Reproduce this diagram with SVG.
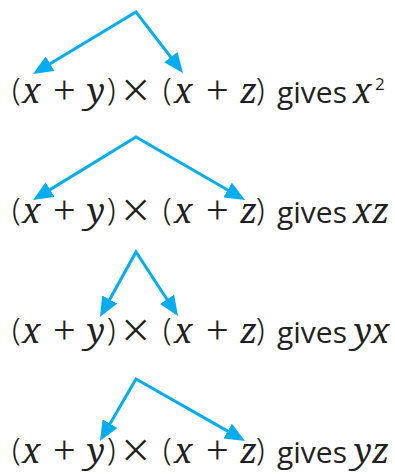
<svg xmlns="http://www.w3.org/2000/svg" width="395" height="474" viewBox="0 0 395 474">
<style>
  text { fill: #231f20; }
  .p { font-family: "Noto Sans", "Liberation Sans", sans-serif; font-size: 31px; font-weight: 300; }
  .m { font-family: "Noto Serif", "Liberation Serif", serif; font-style: italic; font-size: 34px; }
  .o { font-family: "Liberation Serif", serif; font-size: 40px; }
  .t { font-family: "Noto Sans", sans-serif; font-size: 48px; font-weight: 300; }
  .w { font-family: "Open Sans", "Liberation Sans", sans-serif; font-size: 30px; }
  .s { font-family: "Open Sans", "Liberation Sans", sans-serif; font-size: 17px; }
  .arr { fill: none; stroke: #00aeef; stroke-width: 3; stroke-linejoin: miter; marker-start: url(#ah); marker-end: url(#ah); }
</style>
<defs>
  <marker id="ah" viewBox="0 0 20 17" refX="2" refY="8.5" markerWidth="20" markerHeight="17" markerUnits="userSpaceOnUse" orient="auto-start-reverse">
    <path d="M0,0 L20,8.5 L0,17 Z" fill="#00aeef"/>
  </marker>
  <g id="expr">
    <text class="p" x="12" y="100">(</text>
    <text class="m" x="22" y="103">x</text>
    <text class="o" x="53" y="103">+</text>
    <text class="m" x="87" y="103">y</text>
    <text class="p" x="107" y="100">)</text>
    <text class="t" x="122" y="107">×</text>
    <text class="p" x="163" y="100">(</text>
    <text class="m" x="174" y="103">x</text>
    <text class="o" x="206" y="103">+</text>
    <text class="m" x="240" y="103">z</text>
    <text class="p" x="256" y="100">)</text>
    <text class="w" x="277" y="103">gives</text>
  </g>
</defs>
<g id="row1">
  <use href="#expr"/>
  <text class="m" x="353" y="103">x</text>
  <text class="s" x="375" y="90">2</text>
</g>
<g id="row2" transform="translate(0,120)">
  <use href="#expr"/>
  <text class="m" x="353" y="103">x</text>
  <text class="m" x="372" y="103">z</text>
</g>
<g id="row3" transform="translate(0,240)">
  <use href="#expr"/>
  <text class="m" x="354" y="103">y</text>
  <text class="m" x="371" y="103">x</text>
</g>
<g id="row4" transform="translate(0,360)">
  <use href="#expr"/>
  <text class="m" x="354" y="103">y</text>
  <text class="m" x="372" y="103">z</text>
</g>
<g id="connectors">
  <path class="arr" d="M48.4,64.7 L136,12 L172,58.7"/>
  <path class="arr" d="M48.4,190.6 L136,137 L229.4,191"/>
  <path class="arr" d="M108.7,301.3 L136,252 L168.1,301"/>
  <path class="arr" d="M109,425.4 L136,379 L229.4,432.1"/>
</g>
</svg>
